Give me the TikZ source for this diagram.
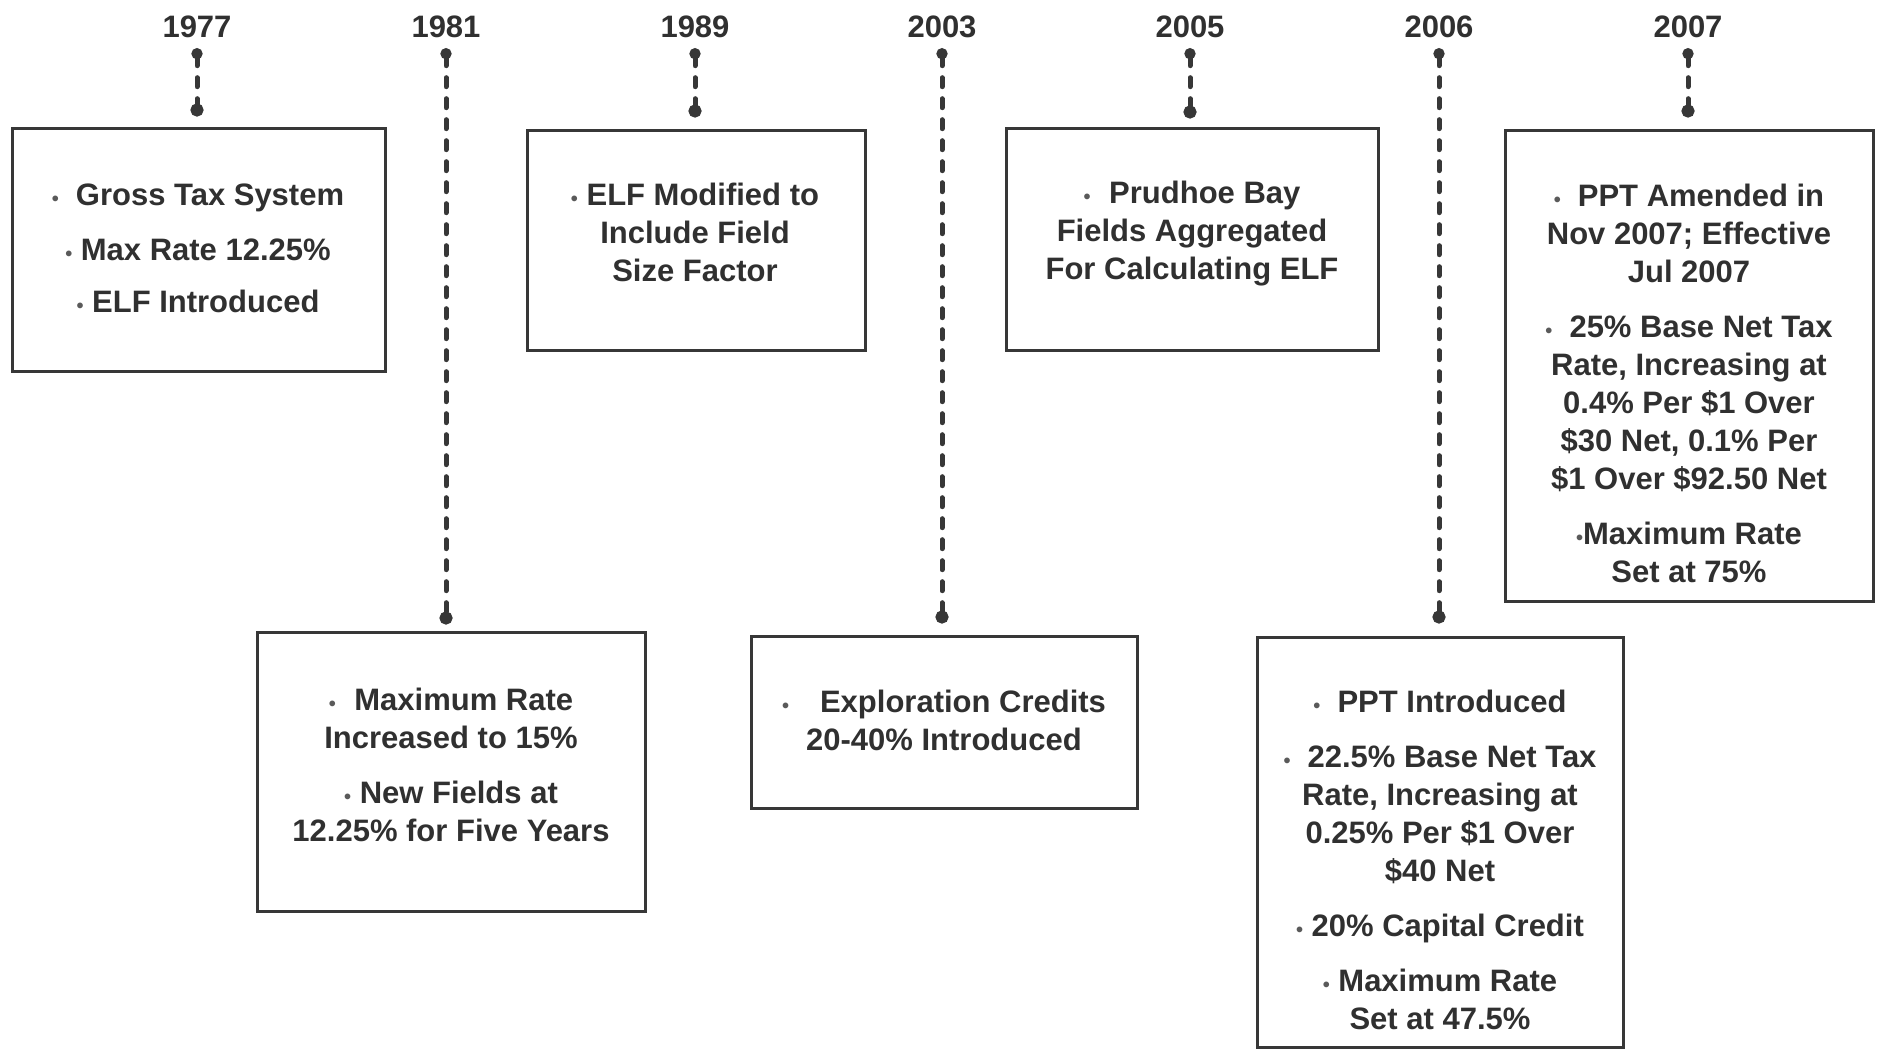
\documentclass[tikz,border=0pt]{standalone}
\usepackage{fontspec}
\setmainfont{Liberation Sans}
\usetikzlibrary{arrows.meta}

\definecolor{ink}{RGB}{48,48,48}
\definecolor{frame}{RGB}{55,55,55}
\definecolor{dotgray}{RGB}{90,90,90}

% small bullet used at the head of each item
\newcommand\bul{{\fontsize{20pt}{20pt}\selectfont\color{dotgray}\textbullet}}

\begin{document}
\begin{tikzpicture}[x=1pt,y=-1pt,
  yearlabel/.style={font=\fontsize{31pt}{38pt}\selectfont\bfseries, text=ink, inner sep=0pt},
  eventbox/.style={draw=frame, line width=3pt, rectangle, inner sep=0pt},
  note/.style={font=\fontsize{31pt}{38pt}\selectfont\bfseries, text=ink, align=center, inner sep=0pt},
  link/.style={draw=frame, line width=5pt, dash pattern=on 9pt off 12pt, line cap=round,
    {Circle[length=11pt]}-{Circle[length=13pt]}, shorten <=10pt},
]
\useasboundingbox (0,0) rectangle (1882,1050);

% ---- years along the top
\node[yearlabel] (y1977) at (197,27) {1977};
\node[yearlabel] (y1981) at (446,27) {1981};
\node[yearlabel] (y1989) at (695,27) {1989};
\node[yearlabel] (y2003) at (942,27) {2003};
\node[yearlabel] (y2005) at (1190,27) {2005};
\node[yearlabel] (y2006) at (1439,27) {2006};
\node[yearlabel] (y2007) at (1688,27) {2007};

% ---- event boxes (upper row)
\node[eventbox, minimum width=373pt, minimum height=243pt] (b1977) at (198.5,249.5) {};
\node[eventbox, minimum width=338pt, minimum height=220pt] (b1989) at (696,240) {};
\node[eventbox, minimum width=372pt, minimum height=222pt] (b2005) at (1192,239) {};
\node[eventbox, minimum width=368pt, minimum height=471pt] (b2007) at (1689,365.5) {};

% ---- event boxes (lower row)
\node[eventbox, minimum width=388pt, minimum height=279pt] (b1981) at (451,771.5) {};
\node[eventbox, minimum width=386pt, minimum height=172pt] (b2003) at (944,722) {};
\node[eventbox, minimum width=366pt, minimum height=410pt] (b2006) at (1440,842) {};

% ---- box texts
\node[note] (t1977) at (198,248)
  {\bul\hspace{0.55em}Gross Tax System\\[17pt]\bul\ Max Rate 12.25\%\\[14pt]\bul\ ELF Introduced};
\node[note] (t1981) at (451,765)
  {\bul\hspace{0.6em}Maximum Rate\\Increased to 15\%\\[17pt]\bul\ New Fields at\\12.25\% for Five Years};
\node[note] (t1989) at (695,232)
  {\bul\ ELF Modified to\\Include Field\\Size Factor};
\node[note] (t2003) at (944,720)
  {\bul\hspace{1em}Exploration Credits\\20-40\% Introduced};
\node[note] (t2005) at (1192,234)
  {\bul\hspace{0.6em}Prudhoe Bay\\Fields Aggregated\\For Calculating ELF};
\node[note] (t2006) at (1440,860)
  {\bul\hspace{0.55em}PPT Introduced\\[17pt]
   \bul\hspace{0.55em}22.5\% Base Net Tax\\Rate, Increasing at\\0.25\% Per \$1 Over\\\$40 Net\\[17pt]
   \bul\ 20\% Capital Credit\\[17pt]
   \bul\ Maximum Rate\\Set at 47.5\%};
\node[note] (t2007) at (1689,383)
  {\bul\hspace{0.55em}PPT Amended in\\Nov 2007; Effective\\Jul 2007\\[17pt]
   \bul\hspace{0.55em}25\% Base Net Tax\\Rate, Increasing at\\0.4\% Per \$1 Over\\\$30 Net, 0.1\% Per\\\$1 Over \$92.50 Net\\[17pt]
   \bul Maximum Rate\\Set at 75\%};

% ---- dashed connectors from years to boxes
\draw[link, shorten >=10pt] (y1977.south) -- (y1977.south |- b1977.north);
\draw[link, shorten >=6pt]  (y1981.south) -- (y1981.south |- b1981.north);
\draw[link, shorten >=11pt] (y1989.south) -- (y1989.south |- b1989.north);
\draw[link, shorten >=11pt] (y2003.south) -- (y2003.south |- b2003.north);
\draw[link, shorten >=8pt]  (y2005.south) -- (y2005.south |- b2005.north);
\draw[link, shorten >=12pt] (y2006.south) -- (y2006.south |- b2006.north);
\draw[link, shorten >=11pt] (y2007.south) -- (y2007.south |- b2007.north);
\end{tikzpicture}
\end{document}
